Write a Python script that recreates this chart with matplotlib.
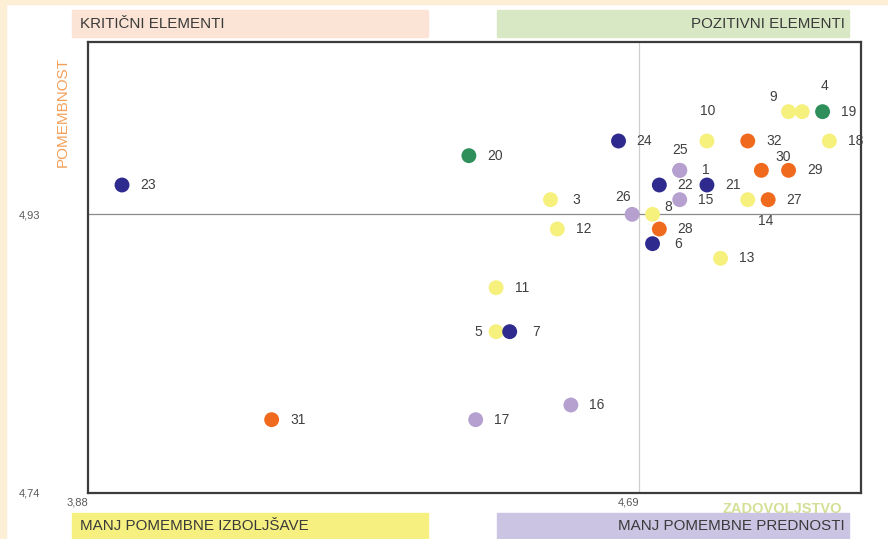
import matplotlib.pyplot as plt
from matplotlib.patches import Rectangle

# point number, zadovoljstvo (x), pomembnost (y), group
ids = ['1', '3', '4', '5', '6', '7', '8', '9', '10', '11', '12', '13', '14', '15', '16', '17',
       '18', '19', '20', '21', '22', '23', '24', '25', '26', '27', '28', '29', '30', '31', '32']
zadovoljstvo = [4.75, 4.56, 4.93, 4.48, 4.71, 4.50, 4.71, 4.91, 4.79, 4.48, 4.57, 4.81, 4.85, 4.75, 4.59, 4.45,
                4.97, 4.96, 4.44, 4.79, 4.72, 3.93, 4.66, 4.75, 4.68, 4.88, 4.72, 4.91, 4.87, 4.15, 4.85]
pomembnost = [4.96, 4.94, 5.00, 4.85, 4.91, 4.85, 4.93, 5.00, 4.98, 4.88, 4.92, 4.90, 4.94, 4.94, 4.80, 4.79,
              4.98, 5.00, 4.97, 4.95, 4.95, 4.95, 4.98, 4.96, 4.93, 4.94, 4.92, 4.96, 4.96, 4.79, 4.98]
group = ['lilac', 'yellow', 'yellow', 'yellow', 'blue', 'blue', 'yellow', 'yellow', 'yellow', 'yellow', 'yellow',
         'yellow', 'yellow', 'lilac', 'lilac', 'lilac', 'yellow', 'green', 'green', 'blue', 'blue', 'blue', 'blue',
         'lilac', 'lilac', 'orange', 'orange', 'orange', 'orange', 'orange', 'orange']

x_mid, y_mid = 4.69, 4.93
x_min, y_min = 3.88, 4.74

colors = {'yellow': '#f6f07c', 'blue': '#2f2a8e', 'green': '#2f8f5b',
          'orange': '#f06a1e', 'lilac': '#b6a0cf'}

# label offsets in pixels (dx, dy down), default is right of the point
label_off = {'5': (-18, 0), '26': (-9, -17), '8': (16, -7), '25': (0, -20), '10': (1, -30),
             '9': (-15, -15), '4': (22, -26), '30': (22, -13), '14': (18, 21)}

plt.rcParams['font.family'] = ['Liberation Sans', 'DejaVu Sans']

fig = plt.figure(figsize=(8.88, 5.39), dpi=100)
fig.patch.set_facecolor('white')
# cream border on the left and top
fig.patches.append(Rectangle((0, 0), 6 / 888, 1, transform=fig.transFigure, color='#fcefd6', zorder=0))
fig.patches.append(Rectangle((0, 1 - 4 / 539), 1, 4 / 539, transform=fig.transFigure, color='#fcefd6', zorder=0))

ax = fig.add_axes([88 / 888, 46 / 539, 773 / 888, 451 / 539])
ax.set_xlim(x_min, 5.0165)
ax.set_ylim(y_min, 5.0475)

ax.axvline(x_mid, color='#cfcfcf', lw=0.9, zorder=1)
ax.axhline(y_mid, color='#8a8a8a', lw=0.9, zorder=1)

ax.scatter(zadovoljstvo, pomembnost, s=115, c=[colors[g] for g in group], edgecolors='none', zorder=3)

for i, lab in enumerate(ids):
    dx, dy = label_off.get(lab, (26, 0))
    ax.annotate(lab, (zadovoljstvo[i], pomembnost[i]), xytext=(dx * 0.72, -dy * 0.72),
                textcoords='offset points', ha='center', va='center', fontsize=10, color='#404040', zorder=4)

for s in ax.spines.values():
    s.set_color('#3c3c3c')
    s.set_linewidth(1.6)

ax.set_xticks([x_min, x_mid])
ax.set_xticklabels(['3,88', '4,69'], ha='right')
ax.set_yticks([y_min, y_mid])
ax.set_yticklabels(['4,74', '4,93'], ha='left')
ax.tick_params(axis='both', length=0, labelsize=8, labelcolor='#595959')
ax.tick_params(axis='x', pad=3)
ax.tick_params(axis='y', pad=50)

# faint axis title partly hidden by the lower right banner
fig.text(782 / 888, 1 - 509 / 539, 'ZADOVOLJSTVO', ha='center', va='center', fontsize=10.5,
         color='#d3e096', fontweight='bold', zorder=0.5)

# quadrant banners
banners = [(72, 10, 356, 27, '#fbe4d5', 'KRITIČNI ELEMENTI', 'left'),
           (497, 10, 352, 27, '#d9e8c4', 'POZITIVNI ELEMENTI', 'right'),
           (72, 513, 356, 26, '#f5f07f', 'MANJ POMEMBNE IZBOLJŠAVE', 'left'),
           (497, 513, 352, 26, '#cbc4e2', 'MANJ POMEMBNE PREDNOSTI', 'right')]
for bx, by, bw, bh, bc, txt, al in banners:
    fig.patches.append(Rectangle((bx / 888, 1 - (by + bh) / 539), bw / 888, bh / 539,
                                 transform=fig.transFigure, color=bc, zorder=1))
    tx = (bx + 8) / 888 if al == 'left' else (bx + bw - 4) / 888
    fig.text(tx, 1 - (by + bh / 2) / 539, txt, ha=al, va='center', fontsize=10.9, color='#3a3a3a', zorder=2)

fig.text(63 / 888, 1 - 112 / 539, 'POMEMBNOST', rotation=90, ha='center', va='center',
         fontsize=11, color='#f4a05a')

fig.savefig('out.png', dpi=100)
